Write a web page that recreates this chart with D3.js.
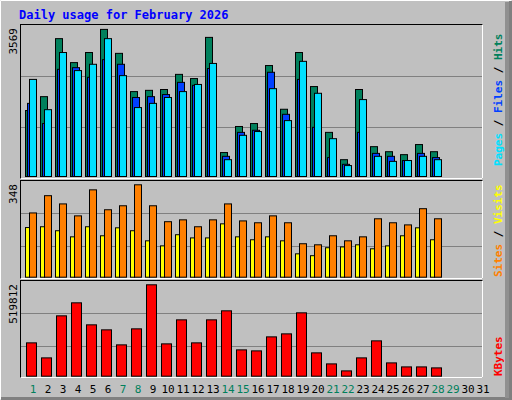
<!DOCTYPE html>
<html><head><meta charset="utf-8">
<script src="https://d3js.org/d3.v7.min.js"></script>
<style>body{margin:0;background:#fff}</style>
</head><body>
<script>
// values
var days = d3.range(1, 32);
var weekend = [1, 7, 8, 14, 15, 21, 22, 28, 29];
var hits  = [1570,1900,3280,2710,2950,3500,2930,2020,2050,2070,2430,2330,3310,570,1190,1260,2640,1600,2950,2140,1050,400,2070,710,590,520,760,590];
var files = [1740,1260,2550,2590,2360,2780,2670,1880,1900,1950,2240,2170,2570,480,1050,1100,2480,1480,2310,1170,450,290,1050,550,480,380,550,450];
var pages = [2310,1590,2950,2520,2670,3280,2400,1640,1740,1880,2020,2190,2690,400,980,1070,2090,1330,2740,1980,900,260,1830,480,360,380,480,400];
var visits = [187,190,175,152,190,156,186,175,137,118,160,148,148,201,152,141,152,137,88,81,111,114,122,107,118,156,186,141];
var sites  = [242,307,276,231,329,254,269,348,269,209,216,190,216,276,212,205,231,205,126,122,156,137,152,220,205,197,258,220];
var kbytes = [189600,104200,343300,417300,292100,263600,178200,269300,519812,183900,320500,189600,320500,371800,149700,144000,223700,240800,360400,132700,70000,30200,104200,201000,75700,52900,52900,47300];

var W = 512, H = 400;
var svg = d3.select("body").append("svg").attr("width", W).attr("height", H)
  .style("font-family", "'DejaVu Sans Mono', monospace");

// frame with bevel
svg.append("rect").attr("width", W).attr("height", H).attr("fill", "#c0c0c0");
svg.append("path").attr("d", "M0.5,399.5V0.5H511.5").attr("stroke", "#fff").attr("fill", "none");
svg.append("path").attr("d", "M1,398.5H510.5V1").attr("stroke", "#808080").attr("stroke-width", 3).attr("fill", "none");
svg.append("rect").attr("x", 505).attr("y", 2).attr("width", 4).attr("height", 396).attr("fill", "#909090");

svg.append("text").attr("x", 19).attr("y", 19).attr("fill", "#0000ff")
  .attr("font-weight", "bold").attr("font-size", 12).text("Daily usage for February 2026");

var x = d3.scaleLinear().domain([1, 32]).range([25, 490]);

var panels = [
  {top: 24, bot: 178, grid: [76, 127], y: d3.scaleLinear([0, 3569], [176, 26]), max: "3569"},
  {top: 180, bot: 278, grid: [213, 246], y: d3.scaleLinear([0, 348], [276.7, 184.3]), max: "348"},
  {top: 280, bot: 377, grid: [313, 346], y: d3.scaleLinear([0, 519812], [375.7, 284.3]), max: "519812"}
];

panels.forEach(function(p) {
  svg.append("rect").attr("x", 20.5).attr("y", p.top + 0.5).attr("width", 462).attr("height", p.bot - p.top)
    .attr("fill", "#c0c0c0").attr("stroke", "#000");
  svg.append("path").attr("d", "M20.5," + (p.bot + 0.5) + "H482.5V" + (p.top + 0.5))
    .attr("stroke", "#fff").attr("fill", "none");
  p.grid.forEach(function(g) {
    svg.append("line").attr("x1", 21).attr("x2", 482).attr("y1", g + 0.5).attr("y2", g + 0.5).attr("stroke", "#808080");
  });
  svg.append("text").attr("transform", "translate(17," + (p.top + 4) + ") rotate(-90)")
    .attr("text-anchor", "end").attr("font-size", 11).attr("fill", "#000").text(p.max);
});

function bars(data, panel, off, w, color) {
  var y = panel.y;
  svg.append("g").selectAll("rect").data(data).enter().append("rect")
    .attr("x", function(d, i) { return x(i + 1) + off + 0.5; })
    .attr("y", function(d) { return y(d) + 0.5; })
    .attr("width", w).attr("height", function(d) { return y(0) - y(d); })
    .attr("fill", color).attr("stroke", "#000");
}
bars(hits, panels[0], 0, 7, "#00805c");
bars(files, panels[0], 2, 7, "#0040ff");
bars(pages, panels[0], 4, 7, "#00e0ff");
bars(visits, panels[1], 0, 4, "#ffff00");
bars(sites, panels[1], 4, 7, "#ff8000");
bars(kbytes, panels[2], 1, 10, "#ff0000");

// day labels
svg.append("g").selectAll("text").data(days).enter().append("text")
  .attr("x", function(d) { return x(d) + 8; }).attr("y", 393)
  .attr("text-anchor", "middle").attr("font-size", 11)
  .attr("fill", function(d) { return weekend.indexOf(d) >= 0 ? "#00805c" : "#000"; })
  .text(function(d) { return d; });

// right-side legends
function legend(parts, yBottom) {
  var t = svg.append("text").attr("transform", "translate(502," + yBottom + ") rotate(-90)")
    .attr("font-size", 11).attr("font-weight", "bold");
  parts.forEach(function(p) { t.append("tspan").attr("fill", p[1]).text(p[0]); });
}
legend([["Pages", "#00e0ff"], [" / ", "#000"], ["Files", "#0040ff"], [" / ", "#000"], ["Hits", "#00805c"]], 166);
legend([["Sites", "#ff8000"], [" / ", "#000"], ["Visits", "#ffff00"]], 277);
legend([["KBytes", "#ff0000"]], 376);
</script>
</body></html>
